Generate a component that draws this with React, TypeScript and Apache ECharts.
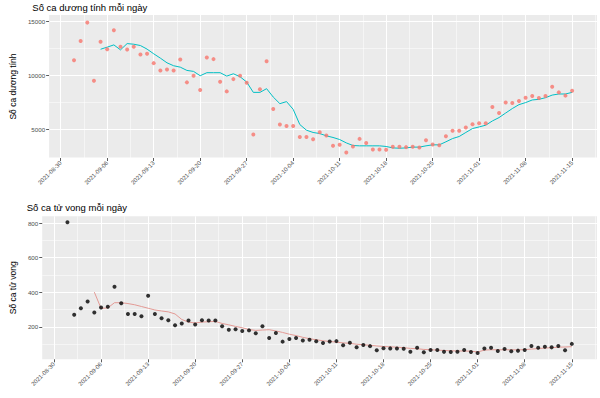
import React, { useEffect, useRef } from "react";
import * as echarts from "echarts";

// ---------- DATA ----------
const firstDate = "2021-09-01"; // first daily observation
const dayCount = 76; // 2021-09-01 .. 2021-11-15

const positiveCases = [
  11400, 13170, 14860, 9500, 13090, 12410, 14150, 12630, 12380, 12630,
  11930, 11990, 11130, 10460, 10550, 10460, 11470, 9360, 9970, 8650,
  11650, 11500, 9420, 8530, 9660, 9970, 9330, 4560, 8720, 11310,
  6910, 5480, 5350, 5350, 4340, 4340, 4130, 4770, 4470, 3520,
  3610, 2910, 3460, 4160, 3790, 3190, 3190, 3160, 3430, 3440,
  3400, 3430, 3370, 4040, 3640, 3580, 4410, 4900, 4900, 5200,
  5510, 5600, 5600, 7100, 6540, 7500, 7470, 7650, 7950, 8100,
  7920, 8100, 8960, 8440, 8140, 8590,
];

const avgStartDate = "2021-09-05"; // rolling averages begin here
const positiveAvg = [
  12410, 12600, 12810, 12350, 12930, 12870, 12750, 12420, 11990, 11590,
  11160, 10890, 10760, 10460, 10370, 9970, 10250, 10250, 10250, 9940,
  10150, 9880, 9390, 8440, 8440, 8780, 8010, 7400, 7590, 6880,
  5480, 4960, 4750, 4650, 4440, 4290, 4100, 3790, 3550, 3520,
  3520, 3520, 3520, 3460, 3330, 3300, 3330, 3400, 3400, 3520,
  3610, 3610, 3890, 4190, 4380, 4750, 5110, 5260, 5420, 5810,
  6120, 6540, 6950, 7310, 7500, 7740, 7800, 7950, 8190, 8290,
  8290, 8440,
];

const deaths = [
  805, 270, 308, 347, 283, 312, 316, 432, 337, 275,
  275, 262, 380, 275, 250, 239, 210, 220, 237, 214,
  239, 237, 237, 204, 184, 187, 177, 180, 163, 204,
  136, 165, 115, 130, 136, 121, 126, 117, 107, 116,
  118, 94, 109, 83, 95, 89, 65, 77, 76, 75,
  74, 57, 80, 54, 67, 67, 56, 55, 57, 67,
  55, 49, 75, 80, 61, 72, 60, 63, 67, 90,
  80, 86, 82, 90, 65, 102,
];

const deathsAvg = [
  401, 307, 310, 340, 340, 335, 328, 318, 308, 298,
  292, 287, 275, 243, 228, 223, 228, 230, 232, 220,
  212, 203, 195, 185, 180, 182, 184, 177, 168, 158,
  150, 140, 132, 126, 120, 116, 112, 108, 105, 100,
  97, 94, 90, 87, 85, 83, 80, 76, 74, 70,
  68, 66, 64, 62, 61, 61, 60, 55, 66, 68,
  68, 68, 68, 67, 69, 72, 75, 78, 80, 83,
  84, 86,
];

const tickDates = [
  "2021-08-30", "2021-09-06", "2021-09-13", "2021-09-20", "2021-09-27", "2021-10-04",
  "2021-10-11", "2021-10-18", "2021-10-25", "2021-11-01", "2021-11-08", "2021-11-15",
];
const positiveTicks = [5000, 10000, 15000];
const positiveMinorTicks = [2500, 7500, 12500];
const deathTicks = [200, 400, 600, 800];
const deathMinorTicks = [100, 300, 500, 700];

const titles = ["Số ca dương tính mỗi ngày", "Số ca tử vong mỗi ngày"];
const yTitles = ["Số ca dương tính", "Số ca tử vong"];

// ---------- HELPERS ----------
const DAY = 86400000;
const FONT = "'Liberation Sans', Arial, Helvetica, sans-serif";
const toMs = (s: string) => Date.parse(s + "T00:00:00Z");
const fmtDate = (v: number) => new Date(Math.round(v / DAY) * DAY).toISOString().slice(0, 10);
const pairs = (vals: number[], start: string) => vals.map((v, i) => [toMs(start) + i * DAY, v]);

export default function App() {
  const ref = useRef<HTMLDivElement>(null);

  useEffect(() => {
    document.body.style.margin = "0";
    if (!ref.current) return;
    const chart = echarts.init(ref.current, undefined, { renderer: "svg" });

    const x0 = toMs(firstDate);
    const xMin = x0 - 3.75 * DAY;
    const xMax = x0 + (dayCount - 1) * DAY + 3.75 * DAY;
    const xMajor = tickDates.map(toMs);
    const xMinor = [xMajor[0] - 3.5 * DAY, ...xMajor.map((t) => t + 3.5 * DAY)].filter(
      (t) => t > xMin && t < xMax
    );

    const grids = [
      { left: 32.7, top: 15, right: 3, height: 143 },
      { left: 26.7, top: 216.3, right: 3, height: 143 },
    ];
    const yRanges = [
      { min: 2400, max: 15560, major: positiveTicks, minor: positiveMinorTicks, gap: 21 },
      { min: 13, max: 839, major: deathTicks, minor: deathMinorTicks, gap: 15.5 },
    ];

    const xAxis: any[] = [];
    const yAxis: any[] = [];
    grids.forEach((_, i) => {
      xAxis.push({
        type: "value",
        gridIndex: i,
        min: xMin,
        max: xMax,
        axisLine: { show: false },
        axisTick: { show: true, customValues: xMajor, length: 3, lineStyle: { color: "#333333", width: 0.8 } },
        axisLabel: {
          customValues: xMajor,
          formatter: (v: number) => fmtDate(v),
          rotate: 45,
          fontSize: 6,
          color: "#4D4D4D",
          margin: 4,
          fontFamily: FONT,
          overflow: "none",
          width: 200,
          showMinLabel: true,
          showMaxLabel: true,
          hideOverlap: false,
        },
        splitLine: { show: true, lineStyle: { color: "#FFFFFF", width: 1 } },
      });
      xAxis.push({
        type: "value",
        gridIndex: i,
        min: xMin,
        max: xMax,
        axisLine: { show: false },
        axisTick: { show: false, customValues: xMinor },
        axisLabel: { show: false, customValues: xMinor },
        splitLine: { show: true, lineStyle: { color: "#FFFFFF", width: 0.5 } },
      });
      const r = yRanges[i];
      yAxis.push({
        type: "value",
        gridIndex: i,
        min: r.min,
        max: r.max,
        name: yTitles[i],
        nameLocation: "middle",
        nameRotate: 90,
        nameGap: r.gap,
        nameTextStyle: { fontSize: 8.5, color: "#000000", fontFamily: FONT },
        axisLine: { show: false },
        axisTick: { show: true, customValues: r.major, length: 3, lineStyle: { color: "#333333", width: 0.8 } },
        axisLabel: {
          customValues: r.major,
          formatter: (v: number) => String(Math.round(v)),
          fontSize: 6.2,
          color: "#4D4D4D",
          margin: 4,
          fontFamily: FONT,
        },
        splitLine: { show: true, lineStyle: { color: "#FFFFFF", width: 1 } },
      });
      yAxis.push({
        type: "value",
        gridIndex: i,
        min: r.min,
        max: r.max,
        axisLine: { show: false },
        axisTick: { show: false, customValues: r.minor },
        axisLabel: { show: false, customValues: r.minor },
        splitLine: { show: true, lineStyle: { color: "#FFFFFF", width: 0.5 } },
      });
    });

    chart.setOption({
      animation: false,
      backgroundColor: "#FFFFFF",
      textStyle: { fontFamily: FONT },
      title: [
        { text: titles[0], left: 32.3, top: 2, padding: 0, textStyle: { fontSize: 9.5, fontWeight: "normal", color: "#000", fontFamily: FONT } },
        { text: titles[1], left: 26.7, top: 202, padding: 0, textStyle: { fontSize: 9.5, fontWeight: "normal", color: "#000", fontFamily: FONT } },
      ],
      grid: grids.map((g) => ({ ...g, show: true, backgroundColor: "#EBEBEB", borderWidth: 0 })),
      xAxis,
      yAxis,
      series: [
        {
          type: "scatter",
          xAxisIndex: 0,
          yAxisIndex: 0,
          data: pairs(positiveCases, firstDate),
          symbolSize: 4,
          itemStyle: { color: "#F8766D" },
          z: 3,
        },
        {
          type: "line",
          xAxisIndex: 0,
          yAxisIndex: 0,
          data: pairs(positiveAvg, avgStartDate),
          showSymbol: false,
          lineStyle: { color: "#00BFC4", width: 1 },
          z: 2,
        },
        {
          type: "scatter",
          xAxisIndex: 2,
          yAxisIndex: 2,
          data: pairs(deaths, firstDate),
          symbolSize: 4,
          itemStyle: { color: "#000000" },
          z: 3,
        },
        {
          type: "line",
          xAxisIndex: 2,
          yAxisIndex: 2,
          data: pairs(deathsAvg, avgStartDate),
          showSymbol: false,
          lineStyle: { color: "#E39A95", width: 1 },
          z: 2,
        },
      ],
    });

    return () => chart.dispose();
  }, []);

  return <div ref={ref} style={{ width: 600, height: 398 }} />;
}
